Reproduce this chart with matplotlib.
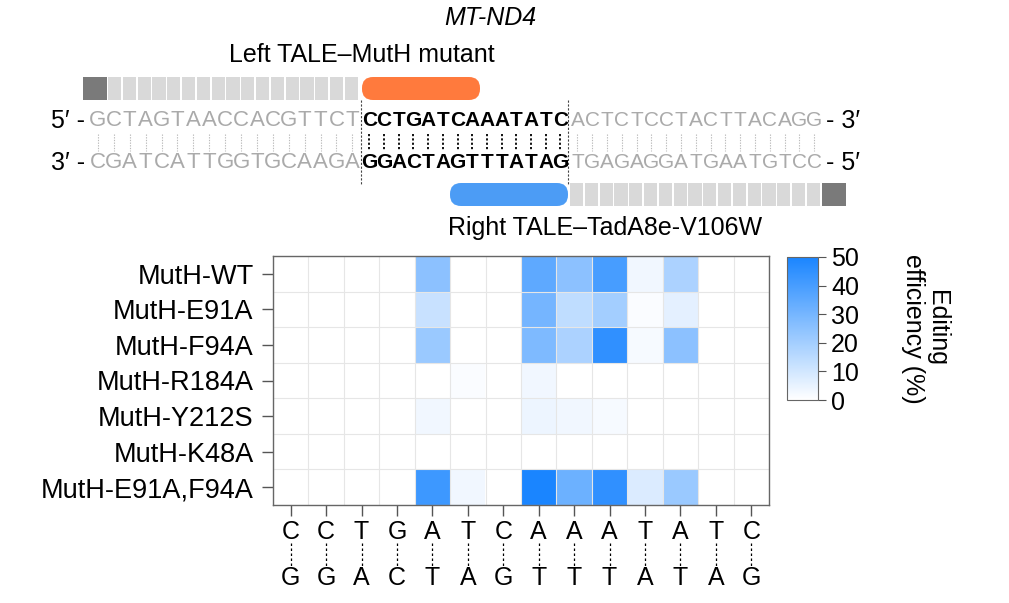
import numpy as np
import matplotlib
matplotlib.use("Agg")
import matplotlib.pyplot as plt
from matplotlib.colors import LinearSegmentedColormap
from matplotlib.patches import Rectangle, FancyBboxPatch

ROWS = ["MutH-WT", "MutH-E91A", "MutH-F94A", "MutH-R184A",
        "MutH-Y212S", "MutH-K48A", "MutH-E91A,F94A"]
TOP_BASES = list("CCTGATCAAATATC")
BOT_BASES = list("GGACTAGTTTATAG")
EFF = np.array([
    [0, 0, 0, 0, 25, 0, 0, 35, 25, 40, 3, 18, 0, 0],
    [0, 0, 0, 0, 12, 0, 0, 30, 14, 20, 1, 6, 0, 0],
    [0, 0, 0, 0, 22, 0, 0, 28, 18, 45, 2, 25, 0, 0],
    [0, 0, 0, 0, 0, 1, 0, 3, 0, 0, 0, 0, 0, 0],
    [0, 0, 0, 0, 3, 0, 0, 4, 3, 2, 0, 0, 0, 0],
    [0, 0, 0, 0, 0, 0, 0, 0, 0, 0, 0, 0, 0, 0],
    [0, 0, 0, 0, 42, 3, 0, 50, 32, 45, 8, 22, 0, 0],
])
SEQ_TOP = ["GCTAGTAACCACGTTCT", "CCTGATCAAATATC", "ACTCTCCTACTTACAGG"]
SEQ_BOT = ["CGATCATTGGTGCAAGA", "GGACTAGTTTATAG", "TGAGAGGATGAATGTCC"]

plt.rcParams["font.family"] = ["Liberation Sans", "DejaVu Sans"]
W, H = 1009, 603
fig = plt.figure(figsize=(W / 100, H / 100), dpi=100)

# overlay in pixel coordinates
ov = fig.add_axes([0, 0, 1, 1])
ov.set_xlim(0, W); ov.set_ylim(H, 0); ov.axis("off")

gray_txt = "#aaaaaa"
FS = 18

def strand(y, parts, lead, tail):
    xs_l = 90 + 15.9 * (np.arange(len(parts[0])) + 0.5)
    xs_m = 362 + 14.7 * (np.arange(len(parts[1])) + 0.5)
    xs_r = 570 + 14.8 * (np.arange(len(parts[2])) + 0.5)
    for xs, s, col, w, fs in [(xs_l, parts[0], gray_txt, "normal", 16),
                              (xs_m, parts[1], "black", "bold", 15),
                              (xs_r, parts[2], gray_txt, "normal", 15)]:
        for x, ch in zip(xs, s):
            ov.text(x, y, ch, ha="center", va="center", color=col,
                    fontsize=fs, fontweight=w)
    ov.text(85, y, lead, ha="right", va="center", fontsize=FS)
    ov.text(826, y, tail, ha="left", va="center", fontsize=FS)
    return np.concatenate([xs_l, xs_m, xs_r])

xs = strand(121, SEQ_TOP, "5\u2032 -", "- 3\u2032")
strand(163, SEQ_BOT, "3\u2032 -", "- 5\u2032")
for i, x in enumerate(xs):
    inner = 17 <= i < 31
    ov.plot([x, x], [134, 151], ls=(0, (1.2, 1.2)), lw=1.3 if inner else 0.8,
            color="black" if inner else "#bbbbbb")
for x in (361, 568):
    ov.plot([x, x], [100, 185], ls=(0, (2, 1.5)), lw=0.8, color="#444444")

# TALE repeats
ov.add_patch(Rectangle((83, 77), 24, 23, color="#7a7a7a", lw=0))
for k in range(17):
    ov.add_patch(Rectangle((108 + k * 14.8, 77), 13.2, 23, color="#d9d9d9", lw=0))
ov.add_patch(FancyBboxPatch((362, 77), 118, 23, boxstyle="round,pad=0,rounding_size=11",
                            color="#ff7a3d", lw=0))
for k in range(17):
    ov.add_patch(Rectangle((570 + k * 14.8, 183), 13.2, 23, color="#d9d9d9", lw=0))
ov.add_patch(FancyBboxPatch((450, 183), 118, 23, boxstyle="round,pad=0,rounding_size=11",
                            color="#4c9cf5", lw=0))
ov.add_patch(Rectangle((822, 183), 24, 23, color="#7a7a7a", lw=0))

ov.text(490, 18, "MT-ND4", style="italic", ha="center", va="center", fontsize=FS)
ov.text(362, 55, "Left TALE\u2013MutH mutant", ha="center", va="center", fontsize=FS)
ov.text(605, 228, "Right TALE\u2013TadA8e-V106W", ha="center", va="center", fontsize=FS)

# heatmap
cmap = LinearSegmentedColormap.from_list("eff", ["#ffffff", "#1a85ff"])
ax = fig.add_axes([273 / W, 1 - 505 / H, 496 / W, 249 / H])
im = ax.imshow(EFF, cmap=cmap, vmin=0, vmax=50, aspect="auto")
ax.set_xticks(np.arange(-0.5, 14, 1), minor=True)
ax.set_yticks(np.arange(-0.5, 7, 1), minor=True)
ax.grid(which="minor", color="#e6e6e6", lw=0.8)
ax.tick_params(which="minor", length=0)
ax.set_xticks(np.arange(14)); ax.set_xticklabels([])
ax.set_yticks(np.arange(7))
ax.set_yticklabels(ROWS, fontsize=19.5)
ax.tick_params(which="major", length=8, width=1, color="#555555", pad=6)
for s in ax.spines.values():
    s.set_color("#666666"); s.set_linewidth(1)

for i in range(14):
    x = 273 + 496 / 14 * (i + 0.5)
    ov.text(x, 532, TOP_BASES[i], ha="center", va="center", fontsize=FS)
    ov.text(x, 578, BOT_BASES[i], ha="center", va="center", fontsize=FS)
    ov.plot([x, x], [543, 567], ls=(0, (2, 2)), lw=0.9, color="black")

cax = fig.add_axes([787 / W, 1 - 400 / H, 31 / W, 143 / H])
cb = fig.colorbar(im, cax=cax, ticks=[0, 10, 20, 30, 40, 50])
cb.outline.set_edgecolor("#666666")
cax.tick_params(labelsize=FS, length=6, color="#555555")
cax.set_ylabel("Editing\nefficiency (%)", rotation=270, fontsize=FS,
               labelpad=30, va="bottom", linespacing=1.0)

fig.savefig("out.png", dpi=100)
